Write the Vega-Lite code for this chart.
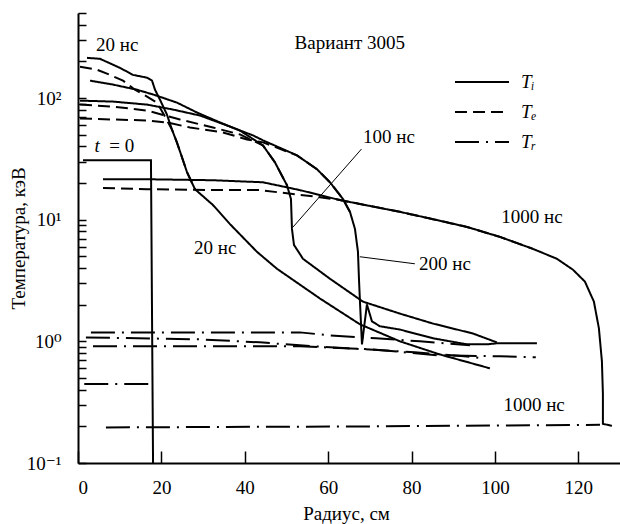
{
  "$schema": "https://vega.github.io/schema/vega-lite/v6.json",
  "width": 542,
  "height": 450,
  "autosize": {"type": "none"},
  "padding": {"left": 78, "top": 13, "right": 0, "bottom": 61},
  "background": "white",
  "config": {
    "view": {"stroke": null},
    "font": "'Liberation Serif', 'Times New Roman', 'DejaVu Serif', serif",
    "axis": {"grid": false, "domainColor": "black", "domainWidth": 2, "tickColor": "black", "tickWidth": 1.5, "labelColor": "black", "titleColor": "black", "labelFont": "'Liberation Serif', 'Times New Roman', 'DejaVu Serif', serif", "titleFont": "'Liberation Serif', 'Times New Roman', 'DejaVu Serif', serif", "labelFontSize": 19, "titleFontSize": 19, "titleFontWeight": "normal"},
    "legend": {"labelFont": "'Liberation Serif', 'Times New Roman', 'DejaVu Serif', serif"},
    "text": {"font": "'Liberation Serif', 'Times New Roman', 'DejaVu Serif', serif"}
  },
  "datasets": {
    "curves": [
      {"c":"Ti20","t":"Ti","i":1,"x":2.16,"y":214},{"c":"Ti20","t":"Ti","i":2,"x":5.28,"y":210},{"c":"Ti20","t":"Ti","i":3,"x":10.07,"y":177},{"c":"Ti20","t":"Ti","i":4,"x":13.19,"y":155},{"c":"Ti20","t":"Ti","i":5,"x":16.55,"y":147},{"c":"Ti20","t":"Ti","i":6,"x":17.75,"y":139},{"c":"Ti20","t":"Ti","i":7,"x":18.47,"y":117},{"c":"Ti20","t":"Ti","i":8,"x":19.66,"y":97},{"c":"Ti20","t":"Ti","i":9,"x":21.34,"y":73},{"c":"Ti20","t":"Ti","i":10,"x":22.54,"y":55},{"c":"Ti20","t":"Ti","i":11,"x":23.74,"y":43},{"c":"Ti20","t":"Ti","i":12,"x":24.94,"y":32.6},{"c":"Ti20","t":"Ti","i":13,"x":26.14,"y":24.6},{"c":"Ti20","t":"Ti","i":14,"x":28.06,"y":17.8},{"c":"Ti20","t":"Ti","i":15,"x":32.37,"y":13.2},{"c":"Ti20","t":"Ti","i":16,"x":36.45,"y":9.2},{"c":"Ti20","t":"Ti","i":17,"x":42.93,"y":5.44},{"c":"Ti20","t":"Ti","i":18,"x":47.72,"y":3.95},{"c":"Ti20","t":"Ti","i":19,"x":58.03,"y":2.25},{"c":"Ti20","t":"Ti","i":20,"x":67.63,"y":1.38},{"c":"Ti20","t":"Ti","i":21,"x":77.22,"y":1.0},{"c":"Ti20","t":"Ti","i":22,"x":86.81,"y":0.78},{"c":"Ti20","t":"Ti","i":23,"x":98.8,"y":0.6},
      {"c":"Te20","t":"Te","i":1,"x":0.48,"y":181},{"c":"Te20","t":"Te","i":2,"x":4.56,"y":171},{"c":"Te20","t":"Te","i":3,"x":7.67,"y":155},{"c":"Te20","t":"Te","i":4,"x":10.79,"y":139},{"c":"Te20","t":"Te","i":5,"x":13.67,"y":117},{"c":"Te20","t":"Te","i":6,"x":16.07,"y":105},{"c":"Te20","t":"Te","i":7,"x":18.94,"y":91.7},{"c":"Te20","t":"Te","i":8,"x":20.62,"y":73},{"c":"Te20","t":"Te","i":9,"x":22.54,"y":55},{"c":"Te20","t":"Te","i":10,"x":23.74,"y":43},{"c":"Te20","t":"Te","i":11,"x":24.94,"y":32.6},{"c":"Te20","t":"Te","i":12,"x":26.14,"y":24.6},{"c":"Te20","t":"Te","i":13,"x":28.06,"y":17.8},
      {"c":"Ti100","t":"Ti","i":1,"x":2.88,"y":139},{"c":"Ti100","t":"Ti","i":2,"x":8.39,"y":129},{"c":"Ti100","t":"Ti","i":3,"x":14.15,"y":117},{"c":"Ti100","t":"Ti","i":4,"x":17.99,"y":107},{"c":"Ti100","t":"Ti","i":5,"x":23.74,"y":91.7},{"c":"Ti100","t":"Ti","i":6,"x":28.54,"y":76},{"c":"Ti100","t":"Ti","i":7,"x":34.05,"y":63},{"c":"Ti100","t":"Ti","i":8,"x":38.85,"y":54},{"c":"Ti100","t":"Ti","i":9,"x":44.36,"y":40.8},{"c":"Ti100","t":"Ti","i":10,"x":47.24,"y":29.6},{"c":"Ti100","t":"Ti","i":11,"x":50.12,"y":19.2},{"c":"Ti100","t":"Ti","i":12,"x":51.08,"y":14.8},{"c":"Ti100","t":"Ti","i":13,"x":51.32,"y":8.4},{"c":"Ti100","t":"Ti","i":14,"x":51.8,"y":6.21},{"c":"Ti100","t":"Ti","i":15,"x":53.96,"y":4.77},{"c":"Ti100","t":"Ti","i":16,"x":60.43,"y":3.27},{"c":"Ti100","t":"Ti","i":17,"x":68.35,"y":2.12},{"c":"Ti100","t":"Ti","i":18,"x":77.22,"y":1.69},{"c":"Ti100","t":"Ti","i":19,"x":85.13,"y":1.40},{"c":"Ti100","t":"Ti","i":20,"x":94.72,"y":1.16},{"c":"Ti100","t":"Ti","i":21,"x":100.48,"y":0.98},
      {"c":"Te100","t":"Te","i":1,"x":0.48,"y":88.3},{"c":"Te100","t":"Te","i":2,"x":8.39,"y":85.1},{"c":"Te100","t":"Te","i":3,"x":16.55,"y":78.9},{"c":"Te100","t":"Te","i":4,"x":24.46,"y":66.6},{"c":"Te100","t":"Te","i":5,"x":32.37,"y":57.3},{"c":"Te100","t":"Te","i":6,"x":38.85,"y":50.2},{"c":"Te100","t":"Te","i":7,"x":44.36,"y":40.8},{"c":"Te100","t":"Te","i":8,"x":47.24,"y":29.6},{"c":"Te100","t":"Te","i":9,"x":50.12,"y":19.2},
      {"c":"Ti200","t":"Ti","i":1,"x":0.48,"y":95.2},{"c":"Ti200","t":"Ti","i":2,"x":8.39,"y":93.5},{"c":"Ti200","t":"Ti","i":3,"x":16.55,"y":88.3},{"c":"Ti200","t":"Ti","i":4,"x":22.78,"y":80.4},{"c":"Ti200","t":"Ti","i":5,"x":29.26,"y":71.8},{"c":"Ti200","t":"Ti","i":6,"x":35.73,"y":59.5},{"c":"Ti200","t":"Ti","i":7,"x":41.97,"y":49.3},{"c":"Ti200","t":"Ti","i":8,"x":44.36,"y":44.9},{"c":"Ti200","t":"Ti","i":9,"x":52.52,"y":33.8},{"c":"Ti200","t":"Ti","i":10,"x":57.31,"y":26.0},{"c":"Ti200","t":"Ti","i":11,"x":60.43,"y":20.3},{"c":"Ti200","t":"Ti","i":12,"x":63.55,"y":14.8},{"c":"Ti200","t":"Ti","i":13,"x":65.23,"y":11.6},{"c":"Ti200","t":"Ti","i":14,"x":66.43,"y":8.4},{"c":"Ti200","t":"Ti","i":15,"x":67.15,"y":5.44},{"c":"Ti200","t":"Ti","i":16,"x":67.39,"y":3.27},{"c":"Ti200","t":"Ti","i":17,"x":67.63,"y":2.12},{"c":"Ti200","t":"Ti","i":18,"x":68.11,"y":0.945},{"c":"Ti200","t":"Ti","i":19,"x":69.3,"y":2.01},{"c":"Ti200","t":"Ti","i":20,"x":70.5,"y":1.46},{"c":"Ti200","t":"Ti","i":21,"x":72.42,"y":1.33},{"c":"Ti200","t":"Ti","i":22,"x":77.22,"y":1.25},{"c":"Ti200","t":"Ti","i":23,"x":85.13,"y":1.06},{"c":"Ti200","t":"Ti","i":24,"x":93.29,"y":0.945},{"c":"Ti200","t":"Ti","i":25,"x":98.08,"y":0.945},{"c":"Ti200","t":"Ti","i":26,"x":100.48,"y":0.963},{"c":"Ti200","t":"Ti","i":27,"x":110.07,"y":0.963},
      {"c":"Te200","t":"Te","i":1,"x":0.48,"y":67.9},{"c":"Te200","t":"Te","i":2,"x":8.39,"y":66.6},{"c":"Te200","t":"Te","i":3,"x":16.55,"y":65.4},{"c":"Te200","t":"Te","i":4,"x":21.34,"y":63},{"c":"Te200","t":"Te","i":5,"x":26.86,"y":57.3},{"c":"Te200","t":"Te","i":6,"x":34.77,"y":52.1},{"c":"Te200","t":"Te","i":7,"x":40.53,"y":45.7},{"c":"Te200","t":"Te","i":8,"x":44.36,"y":43.2},{"c":"Te200","t":"Te","i":9,"x":52.52,"y":33.8},{"c":"Te200","t":"Te","i":10,"x":57.31,"y":26.0},{"c":"Te200","t":"Te","i":11,"x":60.43,"y":20.3},{"c":"Te200","t":"Te","i":12,"x":63.55,"y":14.8},{"c":"Te200","t":"Te","i":13,"x":65.23,"y":11.6},
      {"c":"Ti1000","t":"Ti","i":1,"x":6.0,"y":21.5},{"c":"Ti1000","t":"Ti","i":2,"x":16.55,"y":21.5},{"c":"Ti1000","t":"Ti","i":3,"x":32.37,"y":21.1},{"c":"Ti1000","t":"Ti","i":4,"x":44.36,"y":20.3},{"c":"Ti1000","t":"Ti","i":5,"x":53.24,"y":17.5},{"c":"Ti1000","t":"Ti","i":6,"x":62.83,"y":14.5},{"c":"Ti1000","t":"Ti","i":7,"x":77.22,"y":11.6},{"c":"Ti1000","t":"Ti","i":8,"x":85.13,"y":10.1},{"c":"Ti1000","t":"Ti","i":9,"x":93.29,"y":8.72},{"c":"Ti1000","t":"Ti","i":10,"x":101.2,"y":7.22},{"c":"Ti1000","t":"Ti","i":11,"x":109.1,"y":5.76},{"c":"Ti1000","t":"Ti","i":12,"x":114.87,"y":4.77},{"c":"Ti1000","t":"Ti","i":13,"x":118.71,"y":3.88},{"c":"Ti1000","t":"Ti","i":14,"x":121.58,"y":3.10},{"c":"Ti1000","t":"Ti","i":15,"x":123.74,"y":2.12},{"c":"Ti1000","t":"Ti","i":16,"x":124.94,"y":1.28},{"c":"Ti1000","t":"Ti","i":17,"x":125.66,"y":0.686},{"c":"Ti1000","t":"Ti","i":18,"x":125.9,"y":0.369},{"c":"Ti1000","t":"Ti","i":19,"x":125.9,"y":0.21},{"c":"Ti1000","t":"Ti","i":20,"x":128.06,"y":0.202},
      {"c":"Te1000","t":"Te","i":1,"x":6.0,"y":18.2},{"c":"Te1000","t":"Te","i":2,"x":16.55,"y":17.8},{"c":"Te1000","t":"Te","i":3,"x":32.37,"y":17.5},{"c":"Te1000","t":"Te","i":4,"x":43.65,"y":17.5},{"c":"Te1000","t":"Te","i":5,"x":58.03,"y":15.3},{"c":"Te1000","t":"Te","i":6,"x":62.83,"y":14.5},{"c":"Te1000","t":"Te","i":7,"x":77.22,"y":11.6},{"c":"Te1000","t":"Te","i":8,"x":85.13,"y":10.1},{"c":"Te1000","t":"Te","i":9,"x":93.29,"y":8.72},{"c":"Te1000","t":"Te","i":10,"x":101.2,"y":7.22},{"c":"Te1000","t":"Te","i":11,"x":109.1,"y":5.76},
      {"c":"T0","t":"Ti","i":1,"x":1.2,"y":30.8},{"c":"T0","t":"Ti","i":2,"x":17.5,"y":30.8},{"c":"T0","t":"Ti","i":3,"x":18.0,"y":0.1},
      {"c":"Tr0","t":"Tr","i":1,"x":1.5,"y":0.445},{"c":"Tr0","t":"Tr","i":2,"x":17.5,"y":0.445},
      {"c":"Tr1000","t":"Tr","i":1,"x":6.7,"y":0.196},{"c":"Tr1000","t":"Tr","i":2,"x":70,"y":0.2},{"c":"Tr1000","t":"Tr","i":3,"x":125.2,"y":0.206},
      {"c":"TrA","t":"Tr","i":1,"x":3.1,"y":1.185},{"c":"TrA","t":"Tr","i":2,"x":53.2,"y":1.185},{"c":"TrA","t":"Tr","i":3,"x":60.4,"y":1.12},{"c":"TrA","t":"Tr","i":4,"x":71.5,"y":1.06},{"c":"TrA","t":"Tr","i":5,"x":82.0,"y":1.0},{"c":"TrA","t":"Tr","i":6,"x":88.0,"y":0.963},{"c":"TrA","t":"Tr","i":7,"x":94.0,"y":0.927},
      {"c":"TrB","t":"Tr","i":1,"x":1.9,"y":1.078},{"c":"TrB","t":"Tr","i":2,"x":29.3,"y":1.038},{"c":"TrB","t":"Tr","i":3,"x":43.6,"y":0.981},{"c":"TrB","t":"Tr","i":4,"x":53.2,"y":0.927},{"c":"TrB","t":"Tr","i":5,"x":64.7,"y":0.877},{"c":"TrB","t":"Tr","i":6,"x":80.8,"y":0.813},{"c":"TrB","t":"Tr","i":7,"x":92.6,"y":0.754},{"c":"TrB","t":"Tr","i":8,"x":97.1,"y":0.726},
      {"c":"TrC","t":"Tr","i":1,"x":3.6,"y":0.910},{"c":"TrC","t":"Tr","i":2,"x":53.2,"y":0.910},{"c":"TrC","t":"Tr","i":3,"x":70.3,"y":0.860},{"c":"TrC","t":"Tr","i":4,"x":86.3,"y":0.768},{"c":"TrC","t":"Tr","i":5,"x":101.2,"y":0.754},{"c":"TrC","t":"Tr","i":6,"x":109.8,"y":0.740}
    ],
    "leaders": [
      {"c":"L100","i":1,"x":68.0,"y":38.1},{"c":"L100","i":2,"x":51.6,"y":8.72},
      {"c":"L200","i":1,"x":67.6,"y":4.96},{"c":"L200","i":2,"x":80.8,"y":4.34}
    ],
    "labels": [
      {"text":"20 нс","x":9.4,"y":273},
      {"text":"Вариант 3005","x":65.2,"y":284},
      {"text":"= 0","x":10.5,"y":40},
      {"text":"100 нс","x":74.6,"y":47.5},
      {"text":"20 нс","x":32.9,"y":5.87},
      {"text":"1000 нс","x":108.9,"y":10.5},
      {"text":"200 нс","x":88.0,"y":4.34},
      {"text":"1000 нс","x":109.4,"y":0.30}
    ],
    "italic": [
      {"text":"t","x":4.6,"y":40}
    ]
  },
  "layer": [
    {
      "data": {"name": "curves"},
      "mark": {"type": "line", "color": "black", "strokeWidth": 2, "clip": true},
      "encoding": {
        "x": {"field": "x", "type": "quantitative", "scale": {"domain": [0, 130], "nice": false, "zero": false},
          "axis": {"title": "Радиус, см", "values": [0, 20, 40, 60, 80, 100, 120], "tickSize": -12, "labelPadding": 27, "labelAngle": 0, "titleX": 268, "titleY": 56, "titleBaseline": "alphabetic", "titleAnchor": null}},
        "y": {"field": "y", "type": "quantitative", "scale": {"type": "log", "domain": [0.1, 500], "nice": false},
          "axis": {"title": "Температура, кэВ", "values": [0.1,0.2,0.3,0.4,0.5,0.6,0.7,0.8,0.9,1,2,3,4,5,6,7,8,9,10,20,30,40,50,60,70,80,90,100,200,300,400,500],
            "labelExpr": "datum.value == 0.1 ? '10⁻¹' : datum.value == 1 ? '10⁰' : datum.value == 10 ? '10¹' : datum.value == 100 ? '10²' : ''",
            "labelOverlap": false, "tickSize": -8, "labelPadding": 25, "titleX": -60, "titleY": 225, "titleAngle": 270, "titleBaseline": "middle", "titleAlign": "center", "titleAnchor": null}},
        "detail": {"field": "c"},
        "order": {"field": "i", "type": "quantitative"},
        "strokeDash": {"field": "t", "type": "nominal",
          "scale": {"domain": ["Ti", "Te", "Tr"], "range": [[1, 0], [12, 6], [24, 7, 2, 7]]},
          "legend": {"orient": "none", "legendX": 393, "legendY": 58, "title": null, "symbolType": "M-2.7,0H2.7", "symbolSize": 400, "symbolStrokeWidth": 2, "symbolStrokeColor": "black", "symbolFillColor": "transparent", "labelFontSize": 19, "labelFontStyle": "italic", "labelColor": "black", "labelOffset": 28, "rowPadding": 9,
            "labelExpr": "datum.label == 'Ti' ? 'Tᵢ' : datum.label == 'Te' ? 'Tₑ' : 'Tᵣ'"}}
      }
    },
    {
      "data": {"name": "leaders"},
      "mark": {"type": "line", "color": "black", "strokeWidth": 1},
      "encoding": {
        "x": {"field": "x", "type": "quantitative"},
        "y": {"field": "y", "type": "quantitative"},
        "detail": {"field": "c"},
        "order": {"field": "i", "type": "quantitative"}
      }
    },
    {
      "data": {"name": "labels"},
      "mark": {"type": "text", "fontSize": 19, "color": "black", "align": "center", "baseline": "middle"},
      "encoding": {
        "x": {"field": "x", "type": "quantitative"},
        "y": {"field": "y", "type": "quantitative"},
        "text": {"field": "text"}
      }
    },
    {
      "data": {"name": "italic"},
      "mark": {"type": "text", "fontSize": 19, "fontStyle": "italic", "color": "black", "align": "center", "baseline": "middle"},
      "encoding": {
        "x": {"field": "x", "type": "quantitative"},
        "y": {"field": "y", "type": "quantitative"},
        "text": {"field": "text"}
      }
    }
  ]
}
